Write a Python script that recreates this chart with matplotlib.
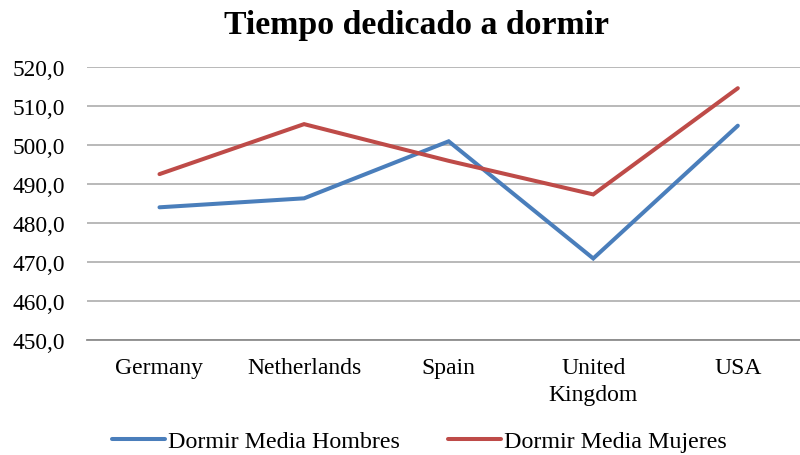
import matplotlib
matplotlib.use("Agg")
import matplotlib.pyplot as plt
import numpy as np

plt.rcParams['font.family'] = ['Liberation Serif', 'DejaVu Serif']

countries = ["Germany", "Netherlands", "Spain", "United\nKingdom", "USA"]
hombres = [484.0, 486.3, 500.9, 470.9, 504.9]
mujeres = [492.5, 505.3, 495.9, 487.3, 514.5]
yticks = [450, 460, 470, 480, 490, 500, 510, 520]

blue = "#4A7EBB"
red = "#BE4B48"

fig = plt.figure(figsize=(8, 4.56), dpi=100)
ax = fig.add_axes([0.109, 0.252, 0.891, 0.5995])

x = np.arange(len(countries))
ax.plot(x, hombres, color=blue, lw=2.9, solid_capstyle="round",
        solid_joinstyle="miter", label="Dormir Media Hombres", zorder=3)
ax.plot(x, mujeres, color=red, lw=2.9, solid_capstyle="round",
        solid_joinstyle="miter", label="Dormir Media Mujeres", zorder=3)

ax.set_xlim(-0.5, 4.43)
ax.set_ylim(450, 520)
ax.set_yticks(yticks)
ax.set_yticklabels([("%.1f" % v).replace(".", ",") for v in yticks], fontsize=16.8)
ax.set_xticks(x)
ax.set_xticklabels(countries, fontsize=17, linespacing=1.4)
ax.tick_params(axis="both", length=0)
ax.tick_params(axis="y", pad=16)
ax.tick_params(axis="x", pad=12)

ax.grid(axis="y", color="#B3B3B3", lw=1.3)
ax.set_axisbelow(True)
for s in ["top", "right", "left"]:
    ax.spines[s].set_visible(False)
ax.spines["bottom"].set_color("#8C8C8C")
ax.spines["bottom"].set_linewidth(1.3)

fig.text(0.52, 0.943, "Tiempo dedicado a dormir", ha="center", va="center",
         fontsize=24.3, fontweight="bold")

fig.legend(loc="center", bbox_to_anchor=(0.524, 0.03), ncol=2, frameon=False,
           fontsize=17.3, handlelength=2.2, handletextpad=0.13, columnspacing=2.0,
           borderaxespad=0)

fig.savefig("out.png", dpi=100)
